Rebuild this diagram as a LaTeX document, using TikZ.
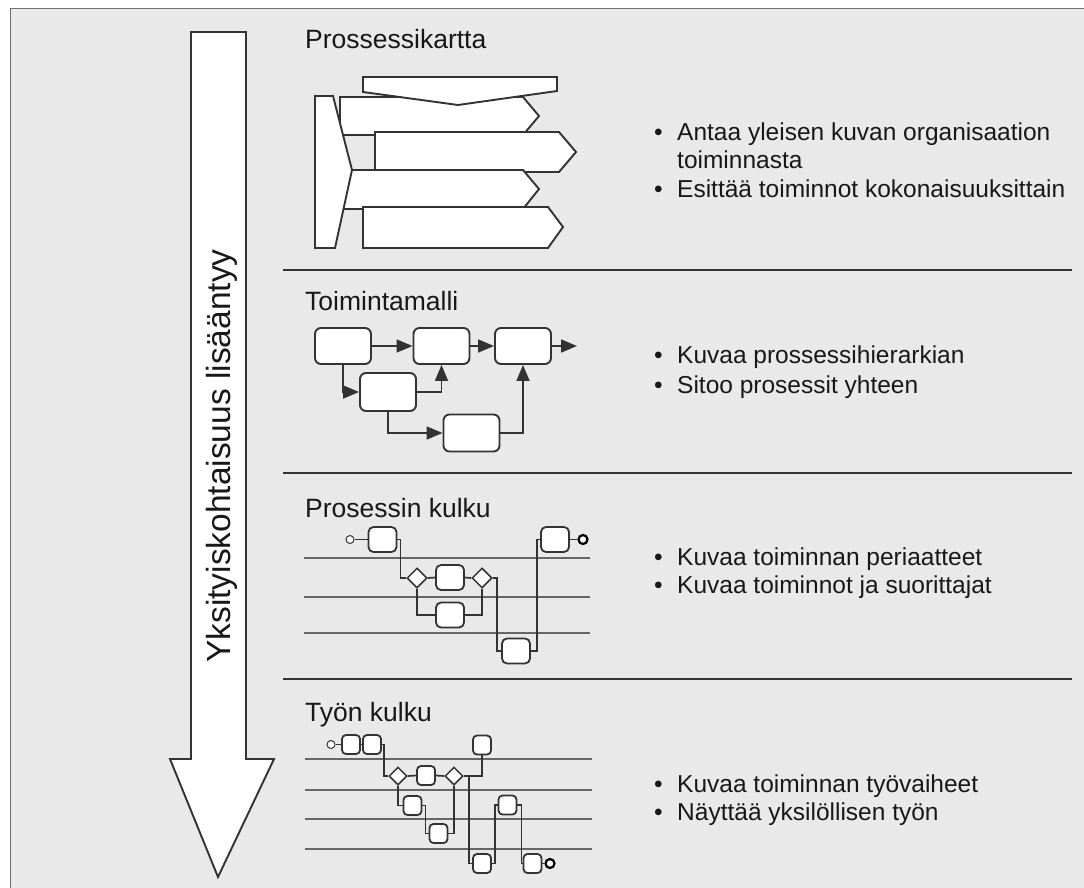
\documentclass[tikz,border=0pt]{standalone}
\usepackage{fontspec}
\setmainfont{Liberation Sans}
\usetikzlibrary{arrows.meta,shapes.geometric}
\definecolor{panel}{HTML}{E9E9E9}
\definecolor{frame}{HTML}{707070}
\definecolor{ink}{HTML}{333333}
\definecolor{txt}{HTML}{181818}
\definecolor{lane}{HTML}{666666}
\tikzset{
  outline/.style={draw=ink, line width=1.9pt, fill=white, line join=miter},
  procbox/.style={draw=ink, line width=1.9pt, fill=white, rounded corners=6pt,
    minimum width=56pt, minimum height=36pt, inner sep=0pt},
  flowbox/.style={draw=ink, line width=1.8pt, fill=white, rounded corners=5pt,
    minimum width=28pt, minimum height=25pt, inner sep=0pt},
  taskbox/.style={draw=ink, line width=1.8pt, fill=white, rounded corners=4pt,
    minimum width=18pt, minimum height=19pt, inner sep=0pt},
  gateway/.style={diamond, draw=ink, line width=1.5pt, fill=white,
    minimum width=20pt, minimum height=20pt, inner sep=0pt},
  smallgate/.style={gateway, minimum width=18pt, minimum height=18pt},
  startev/.style={circle, draw=ink, line width=1pt, fill=white,
    minimum size=8pt, inner sep=0pt},
  endev/.style={circle, draw=black, line width=2.2pt, fill=white,
    minimum size=9pt, inner sep=0pt},
  wire/.style={draw=ink, line width=1.7pt},
  link/.style={draw=ink, line width=1.8pt, -{Triangle[length=16pt,width=13pt]}},
  swimlane/.style={draw=lane, line width=1.6pt},
  divider/.style={draw=ink, line width=2.2pt},
  heading/.style={anchor=base west, text=txt, inner sep=0pt,
    font=\fontsize{26.5}{32}\selectfont},
  note/.style={anchor=base west, text=txt, inner sep=0pt,
    font=\fontsize{24.5}{29}\selectfont},
}
\begin{document}
\begin{tikzpicture}[x=1pt,y=-1pt]
\useasboundingbox (0,0) rectangle (1084,888);
% panel and its frame
\fill[white] (0,0) rectangle (1084,888);
\fill[panel] (10.5,8.5) rectangle (1084,888);
\draw[frame, line width=1.6pt] (10.5,888) -- (10.5,8.5) -- (1084,8.5);

% detail axis
\draw[outline] (191,32) -- (246,32) -- (246,759) -- (274,759) -- (218,877)
  -- (170,759) -- (191,759) -- cycle;
\node[rotate=90, anchor=base, text=txt, inner sep=0pt,
  font=\fontsize{33.5}{40}\selectfont] (axis) at (230,456)
  {Yksityiskohtaisuus lisääntyy};

% section dividers
\draw[divider] (283,270) -- (1072,270);
\draw[divider] (283,473) -- (1072,473);
\draw[divider] (283,679) -- (1072,679);

% ---------- Prossessikartta ----------
\node[heading] (t1) at (305,49) {Prossessikartta};
\draw[outline] (340,97) -- (523,97) -- (539,116) -- (523,135) -- (340,135) -- cycle;
\draw[outline] (375,132) -- (559,132) -- (576,152) -- (559,172) -- (375,172) -- cycle;
\draw[outline] (340,170) -- (523,170) -- (539,189) -- (523,209) -- (340,209) -- cycle;
\draw[outline] (363,207) -- (548,207) -- (563,227) -- (548,248) -- (363,248) -- cycle;
\draw[outline] (315,96) -- (333,96) -- (352,170) -- (335,248) -- (315,248) -- cycle;
\draw[outline] (363,77) -- (557,77) -- (557,91) -- (458,105) -- (363,92) -- cycle;

\node[note] (d1a) at (654,140) {•};
\node[note] (n1a) at (677,140) {Antaa yleisen kuvan organisaation};
\node[note] (n1b) at (677,168) {toiminnasta};
\node[note] (d1c) at (654,197) {•};
\node[note] (n1c) at (677,197) {Esittää toiminnot kokonaisuuksittain};

% ---------- Toimintamalli ----------
\node[heading] (t2) at (305,310) {Toimintamalli};
\node[procbox] (ma) at (343,346) {};
\node[procbox] (mb) at (441.5,346) {};
\node[procbox] (mc) at (523,346) {};
\node[procbox, minimum height=38pt] (md) at (388,392) {};
\node[procbox, minimum height=37pt] (me) at (471.5,433) {};
\coordinate (mout) at (577,346);
\draw[link] (ma) -- (mb);
\draw[link] (mb) -- (mc);
\draw[link] (mc) -- (mout);
\draw[link] (ma.south) |- (md.west);
\draw[link] (md.east) -| (mb.south);
\draw[link] (md.south) |- (me.west);
\draw[link] (me.east) -| (mc.south);

\node[note] (d2a) at (654,363) {•};
\node[note] (n2a) at (677,363) {Kuvaa prossessihierarkian};
\node[note] (d2b) at (654,393) {•};
\node[note] (n2b) at (677,393) {Sitoo prosessit yhteen};

% ---------- Prosessin kulku ----------
\node[heading] (t3) at (305,517) {Prosessin kulku};
\foreach \y in {558,597,633} \draw[swimlane] (304,\y) -- (590,\y);
\node[startev] (ps) at (350,539.5) {};
\node[flowbox] (p1) at (382.5,539.5) {};
\node[gateway] (g1) at (417,578) {};
\node[flowbox] (p2) at (450,577.5) {};
\node[gateway] (g2) at (482,578) {};
\node[flowbox] (p3) at (450,615) {};
\node[flowbox] (p4) at (516,651) {};
\node[flowbox] (p5) at (555,539.5) {};
\node[endev] (pe) at (583,539.5) {};
\draw[wire] (ps) -- (p1);
\draw[wire] (p1.east) -- ++(3,0) |- (g1.west);
\draw[wire] (g1.east) -- (p2.west);
\draw[wire] (p2.east) -- (g2.west);
\draw[wire] (g1.south) |- (p3.west);
\draw[wire] (p3.east) -| (g2.south);
\draw[wire] (g2.east) -- ++(4,0) |- (p4.west);
\draw[wire] (p4.east) -- ++(6,0) |- (p5.west);
\draw[wire] (p5) -- (pe);

\node[note] (d3a) at (654,565) {•};
\node[note] (n3a) at (677,565) {Kuvaa toiminnan periaatteet};
\node[note] (d3b) at (654,593) {•};
\node[note] (n3b) at (677,593) {Kuvaa toiminnot ja suorittajat};

% ---------- Työn kulku ----------
\node[heading] (t4) at (305,721) {Työn kulku};
\foreach \y in {759,790,819,849} \draw[swimlane] (305,\y) -- (592,\y);
\node[startev] (ws) at (331,744.5) {};
\node[taskbox] (w1) at (351,744.5) {};
\node[taskbox] (w2) at (372,744.5) {};
\node[smallgate] (q1) at (398,776) {};
\node[taskbox] (w3) at (426,775.5) {};
\node[smallgate] (q2) at (454,776) {};
\node[taskbox] (w4) at (482,745) {};
\node[taskbox] (w5) at (412.5,805.5) {};
\node[taskbox] (w6) at (438.5,833.5) {};
\node[taskbox] (w7) at (482,863.5) {};
\node[taskbox] (w8) at (507.5,805) {};
\node[taskbox] (w9) at (532.5,863.5) {};
\node[endev] (we) at (550,863.5) {};
\draw[wire] (ws) -- (w1);
\draw[wire] (w1) -- (w2);
\draw[wire] (w2.east) -- ++(2,0) |- (q1.west);
\draw[wire] (q1.east) -- (w3.west);
\draw[wire] (w3.east) -- (q2.west);
\draw[wire] (q2.east) -| (w4.south);
\draw[wire] (q2.east) -- ++(5,0) |- (w7.west);
\draw[wire] (q1.south) |- (w5.west);
\draw[wire] (w5.east) -- ++(3,0) |- (w6.west);
\draw[wire] (w6.east) -| (q2.south);
\draw[wire] (w7.east) -- ++(3,0) |- (w8.west);
\draw[wire] (w8.east) -- ++(4,0) |- (w9.west);
\draw[wire] (w9) -- (we);

\node[note] (d4a) at (654,792) {•};
\node[note] (n4a) at (677,792) {Kuvaa toiminnan työvaiheet};
\node[note] (d4b) at (654,820) {•};
\node[note] (n4b) at (677,820) {Näyttää yksilöllisen työn};
\end{tikzpicture}
\end{document}
